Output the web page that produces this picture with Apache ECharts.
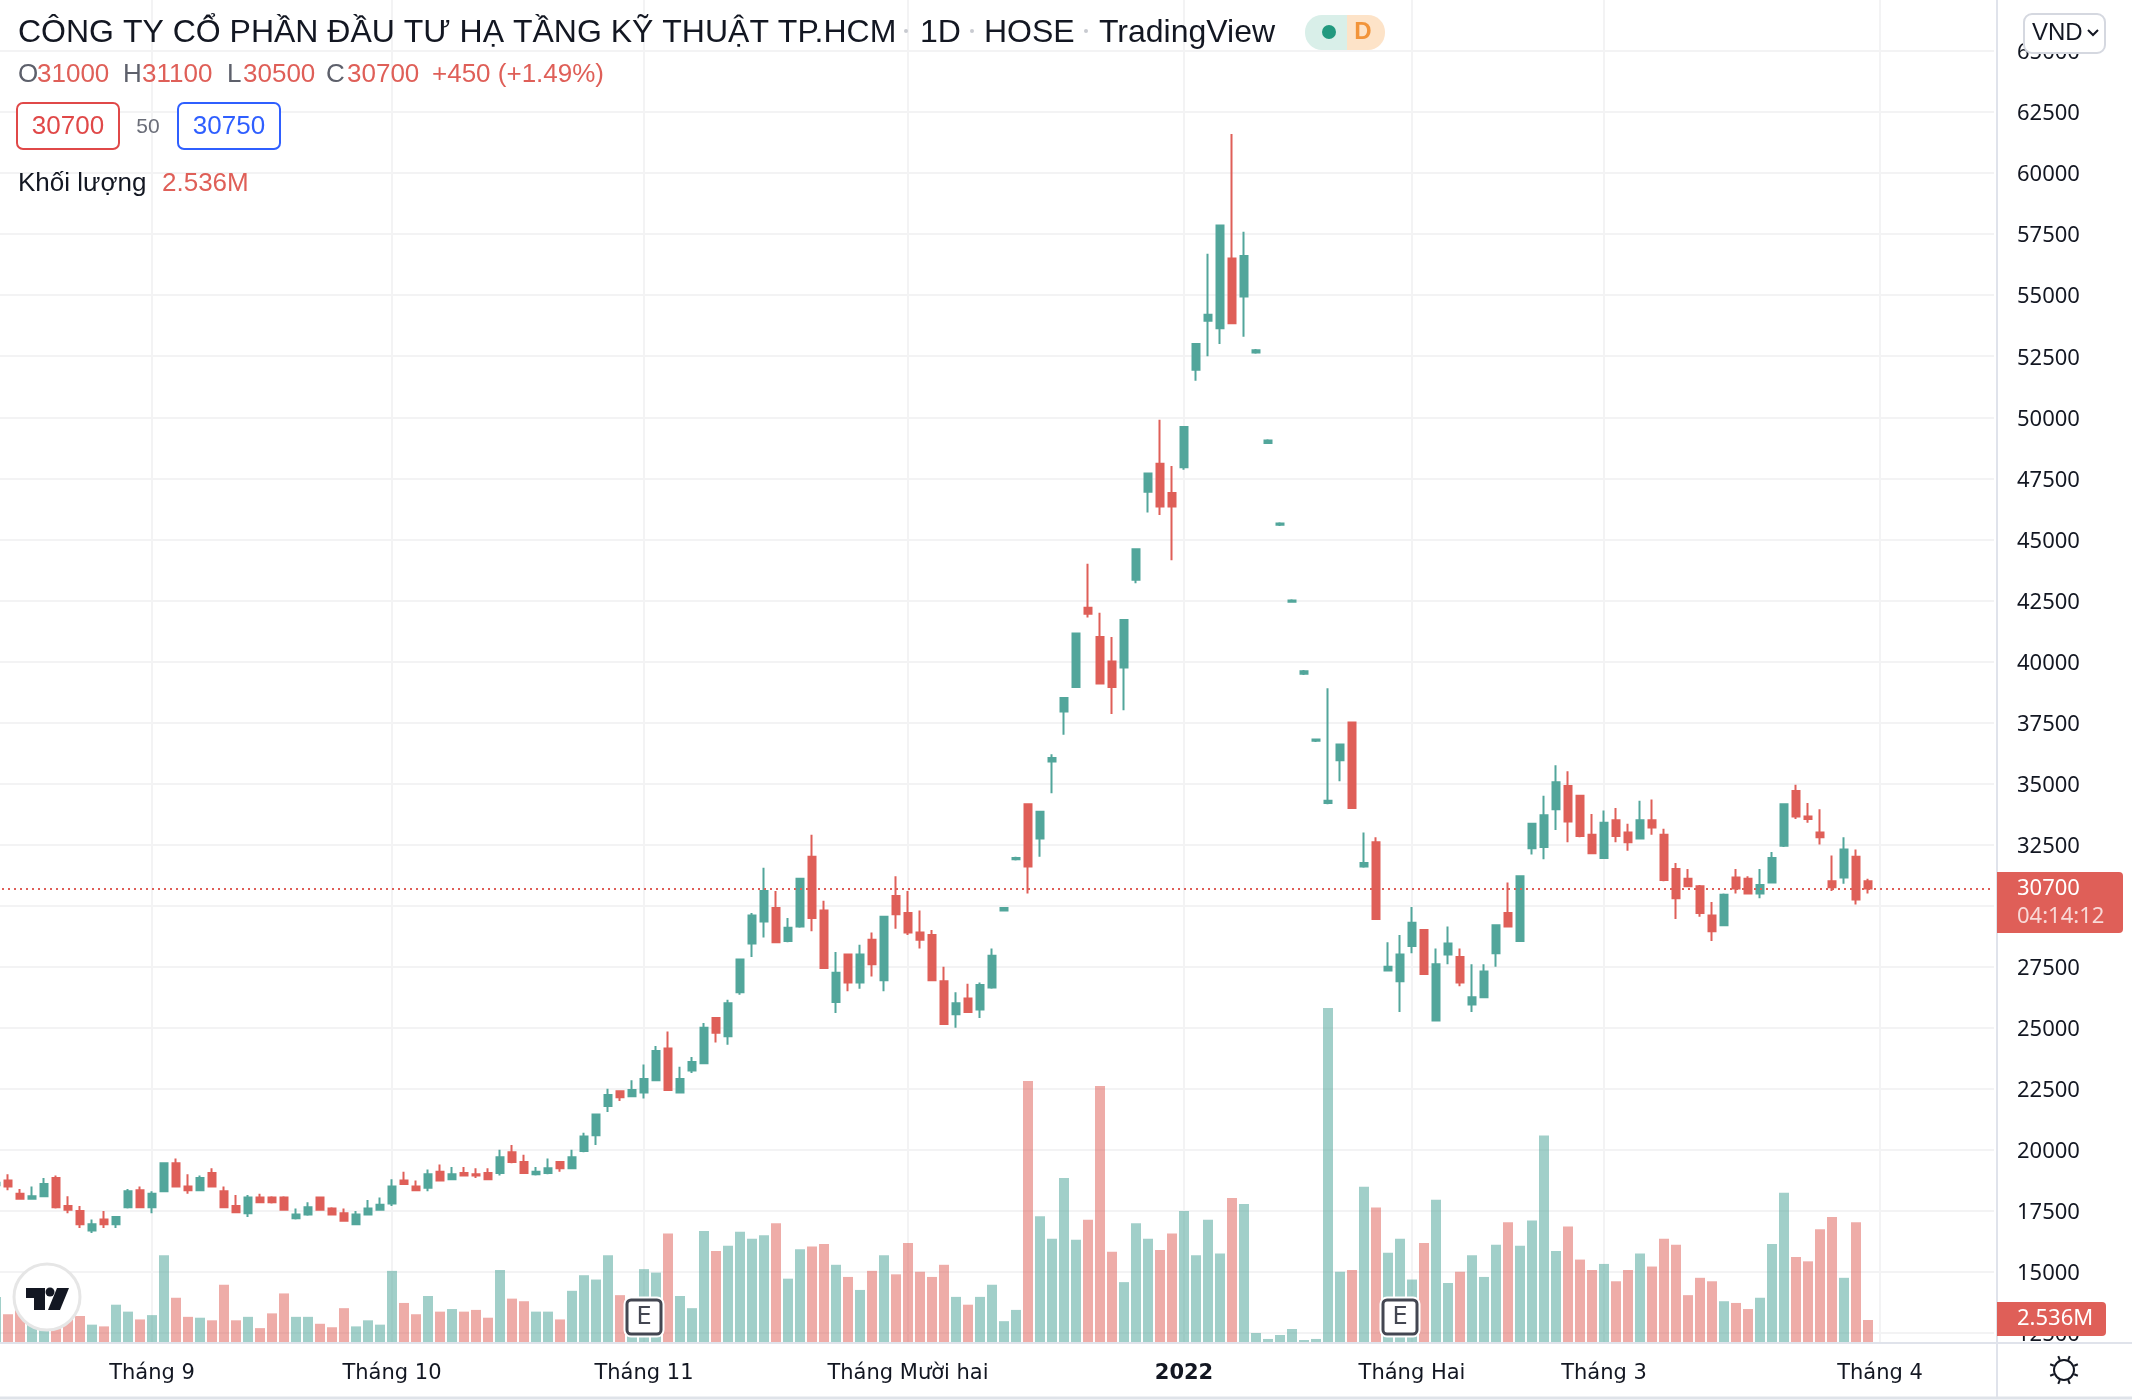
<!DOCTYPE html>
<html>
<head>
    <meta charset="utf-8" />
    <title>CÔNG TY CỔ PHẦN ĐẦU TƯ HẠ TẦNG KỸ THUẬT TP.HCM</title>
    <style>
        html, body { margin: 0; padding: 0; background: #fff; }
        #chart { width: 2132px; height: 1400px; }
    </style>
</head>
<body>
    <div id="chart"></div>
    <script src="https://cdn.jsdelivr.net/npm/echarts@6/dist/echarts.min.js"></script>
    <script type="text/javascript">

        var opens = [18550,18750,18200,18000,18100,18850,17700,17500,16700,17150,16950,17650,18350,17650,18300,19450,18500,18350,19050,18300,
            17700,17400,18050,18050,18050,17200,17350,18050,17600,17400,16950,17350,17550,17800,18750,18500,18450,19100,18800,19050,
            19000,19050,19050,19900,19500,19000,19050,19500,19250,19950,20600,21800,22400,22200,22350,22850,24150,22350,23250,23550,
            25400,24650,26450,28450,29350,29900,28550,29150,32000,29800,26050,28000,26850,28600,26950,30400,29700,28900,28800,26900,
            25550,26200,25750,26650,29800,31900,34150,32750,35900,37950,38950,42200,41000,40000,39750,43350,46950,48100,46900,47950,
            51950,53950,53650,56500,54950,52650,48950,45600,42450,39500,36750,34200,35950,37500,31600,32600,27350,26900,28350,29000,
            25300,28000,27900,25950,26250,28050,29700,28550,32350,32400,33950,34900,34500,32900,31950,33500,33000,32750,33500,32900,
            31500,31100,30800,29600,29200,31150,31100,30500,30950,32450,34700,33650,33000,31000,31150,32000,31000];
        var closes = [18650,18500,18000,18100,18600,17650,17550,16950,16950,16950,17250,18300,17650,18200,19450,18500,18350,18850,18500,17650,
            17450,18050,17850,17850,17550,17350,17650,17550,17350,17100,17350,17600,17750,18500,18600,18350,19000,18750,19000,18950,
            18950,18800,19700,19500,19050,19100,19250,19250,19700,20550,21450,22250,22150,22450,22900,24050,22450,22900,23600,25000,
            24800,26000,27800,29600,30600,28500,29100,31100,29500,27450,27250,26850,28000,27600,29550,29650,28900,28600,26950,25150,
            26000,25650,26750,27950,29900,31950,31600,33850,36050,38500,41150,41950,39100,38950,41700,44600,47700,46350,46350,49600,
            53000,54200,57850,53850,56600,52750,49050,45650,42500,39600,36800,34300,36600,34000,31750,29450,27500,28000,29300,27200,
            27600,28450,26850,26250,27300,29200,29150,31200,33350,33700,35050,33450,32850,32150,33400,32850,32600,33500,33200,31050,
            30300,30800,29700,28950,30450,30700,30500,30850,31950,34150,33650,33550,32800,30750,32300,30250,30700];
        var lows = [18550,18350,18000,18000,18100,17600,17400,16800,16600,16800,16800,17600,17650,17400,18300,18500,18200,18300,18500,17650,
            17450,17250,17850,17800,17550,17150,17300,17550,17350,17100,16950,17350,17550,17700,18600,18350,18300,18750,18800,18950,
            18850,18800,18950,19450,19050,18950,19000,19100,19250,19900,20200,21550,22000,22200,22100,22850,22450,22350,23150,23550,
            24400,24300,26350,27900,28700,28500,28500,29100,28950,27450,25600,26500,26600,27100,26500,29050,28800,28250,26950,25150,
            25000,25650,25400,26600,29800,31850,30500,32000,34600,37000,38950,41800,39100,37850,38000,43200,46100,46000,44150,47850,
            51500,52500,53000,53850,53300,52600,48950,45550,42400,39450,36700,34150,35100,34000,31550,29450,27300,25650,28050,27200,
            25300,27600,26700,25650,26250,27500,29150,28550,32100,31900,33100,32600,32800,32150,31950,32600,32250,32750,32900,31000,
            29450,30800,29550,28550,29200,30500,30500,30300,30950,32400,33550,33400,32500,30600,30900,30050,30500];
        var highs = [18650,19000,18400,18500,18850,18950,18100,17700,17150,17500,17250,18400,18500,18300,19450,19650,19000,18950,19250,18500,
            18150,18150,18200,18100,18100,17600,17850,18050,17650,17600,17500,17950,18050,18800,19100,18750,19200,19400,19300,19300,
            19250,19250,20000,20200,19800,19300,19650,19500,20000,20700,21450,22500,22400,22850,23500,24250,24850,23400,23800,25200,
            25400,26150,27800,29700,31550,30600,29500,31100,32900,30200,28100,28000,28400,28900,29550,31200,30600,29800,29000,27500,
            26450,26800,26850,28250,29950,32000,34150,33850,36200,38500,41150,44000,42000,41000,41700,44600,47700,49900,48000,49600,
            53000,56700,57850,61600,57600,52800,49100,45700,42550,39650,36850,38900,36600,37500,33000,32800,28500,28800,29950,29000,
            28250,29150,28250,27600,27600,29200,30950,31200,33350,34500,35750,35500,34500,33750,33900,34000,33350,34300,34350,33150,
            31750,31500,30850,30150,30500,31500,31200,31500,32200,34150,34950,34200,33950,32050,32800,32300,31100];
        // khoi luong, trieu co phieu
        var volumes = [5.2,3.2,4.6,2.4,3.0,3.5,3.3,3.0,2.0,1.8,4.3,3.5,2.6,3.1,10.0,5.1,2.9,2.8,2.5,6.6,
            2.5,2.9,1.6,3.3,5.6,2.9,2.9,2.1,1.7,3.9,1.8,2.5,2.0,8.2,4.5,3.2,5.3,3.5,3.8,3.5,
            3.7,2.8,8.3,5.0,4.7,3.5,3.5,2.6,5.9,7.7,7.2,10.0,5.4,3.5,8.4,8.0,12.5,5.3,3.9,12.8,
            10.5,11.1,12.7,11.9,12.3,13.7,7.3,10.7,11.0,11.3,8.9,7.5,6.0,8.2,10.0,7.8,11.4,8.1,7.5,8.9,
            5.2,4.3,5.2,6.6,2.4,3.7,30.1,14.5,11.9,18.9,11.8,14.1,29.5,10.4,6.9,13.7,11.9,10.6,12.5,15.1,
            10.0,14.1,10.2,16.6,15.9,1.04,0.35,0.81,1.5,0.23,0.35,38.5,8.1,8.3,17.9,15.5,10.3,11.9,7.2,11.4,
            16.4,6.8,8.1,10.0,7.5,11.2,13.8,11.1,14.0,23.8,10.5,13.3,9.5,8.3,9.0,7.0,8.3,10.2,8.7,11.9,
            11.2,5.4,7.4,7.0,4.7,4.5,3.8,5.1,11.3,17.2,9.8,9.3,13.0,14.4,7.4,13.8,2.536];

        var tickIndexes = [13, 33, 54, 76, 99, 118, 134, 157];
        var tickNames = ['Tháng 9', 'Tháng 10', 'Tháng 11', 'Tháng Mười hai', '2022', 'Tháng Hai', 'Tháng 3', 'Tháng 4'];
        var lastClose = 30700;
        var sessionCount = 167; // ca phien trong ben phai

        var categories = [];
        for (var i = 0; i < sessionCount; i++) {
            categories.push(String(i));
        }

        var candles = opens.map(function (o, idx) {
            return [o, closes[idx], lows[idx], highs[idx]];
        });

        var UP = '#52a69b', DOWN = '#df5f58', GRID = '#f3f3f4', LINE = '#e0e3eb', INK = '#131722';
        var SANS = '"Liberation Sans", Arial, sans-serif';

        function isTick(index) {
            return tickIndexes.indexOf(index) >= 0;
        }

        function txt(x, y, text, fill, size, extra) {
            var style = { text: text, fill: fill, fontSize: size, fontFamily: SANS, verticalAlign: 'middle', align: 'left' };
            for (var k in (extra || {})) { style[k] = extra[k]; }
            return { type: 'text', x: x, y: y, z: 100, silent: true, style: style };
        }
        function box(x, y, w, h, fill, stroke, lineWidth, r) {
            return { type: 'rect', z: 99, silent: true, shape: { x: x, y: y, width: w, height: h, r: r || 0 }, style: { fill: fill, stroke: stroke, lineWidth: lineWidth || 0 } };
        }
        function seg(x1, y1, x2, y2, stroke, lineWidth) {
            return { type: 'line', z: 98, silent: true, shape: { x1: x1, y1: y1, x2: x2, y2: y2 }, style: { stroke: stroke, lineWidth: lineWidth } };
        }
        function dot(cx, cy, r, fill) {
            return { type: 'circle', z: 100, silent: true, shape: { cx: cx, cy: cy, r: r }, style: { fill: fill } };
        }

        var chrome = [
            // khung truc
            seg(0, 1343, 2132, 1343, LINE, 2),
            seg(0, 1398, 2132, 1398, '#dfe3e9', 3),
            seg(1997, 0, 1997, 1397, LINE, 2),

            // tieu de
            txt(18, 33, 'CÔNG TY CỔ PHẦN ĐẦU TƯ HẠ TẦNG KỸ THUẬT TP.HCM', INK, 32),
            dot(906, 31, 2, '#c8cad0'),
            txt(920, 33, '1D', INK, 32),
            dot(972, 31, 2, '#c8cad0'),
            txt(984, 33, 'HOSE', INK, 32),
            dot(1086, 31, 2, '#c8cad0'),
            txt(1099, 33, 'TradingView', INK, 32),
            box(1305, 15, 42, 35, '#d9efe9', null, 0, [17, 0, 0, 17]),
            box(1347, 15, 38, 35, '#fde3c8', null, 0, [0, 17, 17, 0]),
            dot(1329, 32, 7, '#22997f'),
            txt(1363, 32, 'D', '#f2943a', 24, { align: 'center', fontWeight: 'bold' }),

            // OHLC
            txt(18, 75, 'O', '#5d606b', 26),
            txt(37, 75, '31000', DOWN, 26),
            txt(123, 75, 'H', '#5d606b', 26),
            txt(142, 75, '31100', DOWN, 26),
            txt(227, 75, 'L', '#5d606b', 26),
            txt(243, 75, '30500', DOWN, 26),
            txt(326, 75, 'C', '#5d606b', 26),
            txt(347, 75, '30700', DOWN, 26),
            txt(432, 75, '+450 (+1.49%)', DOWN, 26),

            // gia mua ban
            box(17, 103, 102, 46, '#fff', '#e04848', 2, 6),
            txt(68, 127, '30700', '#e04848', 26, { align: 'center' }),
            txt(148, 127, '50', '#6a6d78', 21, { align: 'center' }),
            box(178, 103, 102, 46, '#fff', '#2f5fff', 2, 6),
            txt(229, 127, '30750', '#2f5fff', 26, { align: 'center' }),

            txt(18, 184, 'Khối lượng', INK, 26),
            txt(162, 184, '2.536M', DOWN, 26),

            // nut VND
            box(2024, 14, 81, 39, '#fff', '#d5d8e0', 2, 8),
            txt(2032, 33, 'VND', INK, 24),
            { type: 'polyline', z: 100, silent: true, shape: { points: [[2088, 30], [2093, 35], [2098, 30]] }, style: { stroke: INK, lineWidth: 2, fill: null } },

            // nhan gia cuoi
            box(1997, 872, 126, 61, DOWN, null, 0, [0, 4, 4, 0]),
            txt(2017, 889, '30700', '#fff', 22, { fontFamily: '"Noto Sans", sans-serif' }),
            txt(2017, 917, '04:14:12', '#f8d9d7', 22, { fontFamily: '"Noto Sans", sans-serif' }),
            box(1997, 1302, 109, 34, DOWN, null, 0, [0, 4, 4, 0]),
            txt(2017, 1319, '2.536M', '#fff', 22, { fontFamily: '"Noto Sans", sans-serif' }),

            // logo
            { type: 'circle', z: 99, silent: true, shape: { cx: 47, cy: 1297, r: 33 }, style: { fill: '#fff', stroke: '#e6e6e6', lineWidth: 3 } },
            { type: 'polygon', z: 100, silent: true, shape: { points: [[26, 1288], [45, 1288], [45, 1310], [34, 1310], [34, 1298], [26, 1298]] }, style: { fill: INK } },
            dot(50, 1292, 4.5, INK),
            { type: 'polygon', z: 100, silent: true, shape: { points: [[57, 1288], [69, 1288], [60, 1310], [48, 1310]] }, style: { fill: INK } },

            // mat troi
            { type: 'circle', z: 100, silent: true, shape: { cx: 2064, cy: 1370, r: 10 }, style: { fill: '#fff', stroke: INK, lineWidth: 2 } }
        ];

        // tia mat troi
        for (var a = 0; a < 8; a++) {
            var ang = a * Math.PI / 4 + Math.PI / 8;
            chrome.push(seg(2064 + 11 * Math.cos(ang), 1370 + 11 * Math.sin(ang), 2064 + 15 * Math.cos(ang), 1370 + 15 * Math.sin(ang), INK, 2));
        }

        // dau E tren truc thoi gian
        [644, 1400].forEach(function (cx) {
            chrome.push(box(cx - 19, 1298, 38, 38, '#fff', '#fff', 3, 6));
            chrome.push(box(cx - 17, 1300, 34, 34, '#fff', '#434651', 3, 4));
            chrome.push(txt(cx, 1318, 'E', '#434651', 24, { align: 'center', fontFamily: '"DejaVu Sans", sans-serif' }));
        });

        var chart = echarts.init(document.getElementById('chart'));

        var option = {
            animation: false,
            backgroundColor: '#fff',
            grid: [
                { left: -10, top: 0, width: 2004, height: 1342, outerBoundsMode: 'none' },
                { left: -10, top: 51, width: 2004, height: 1282, outerBoundsMode: 'none' }
            ],
            xAxis: [
                {
                    type: 'category', gridIndex: 0, data: categories, boundaryGap: true,
                    axisLine: { show: false },
                    axisTick: { show: false },
                    splitLine: {
                        show: true, alignWithLabel: true,
                        interval: function (index) { return isTick(index); },
                        lineStyle: { color: GRID, width: 2 }
                    },
                    axisLabel: {
                        interval: function (index) { return isTick(index); },
                        margin: 21, color: INK, fontSize: 21, fontFamily: '"DejaVu Sans", sans-serif',
                        formatter: function (value, index) {
                            var name = tickNames[tickIndexes.indexOf(index)];
                            return name === '2022' ? '{b|2022}' : name;
                        },
                        rich: { b: { fontWeight: 'bold', fontSize: 21, fontFamily: '"DejaVu Sans", sans-serif', color: INK } }
                    }
                },
                { type: 'category', gridIndex: 1, data: categories, boundaryGap: true, show: false }
            ],
            yAxis: [
                { type: 'value', gridIndex: 0, min: 0, max: 154.7, show: false, splitLine: { show: false } },
                {
                    type: 'value', gridIndex: 1, min: 12500, max: 65000, interval: 2500, position: 'right', offset: 3,
                    axisLine: { show: false },
                    axisTick: { show: false },
                    axisLabel: {
                        margin: 20, hideOverlap: false,
                        formatter: function (value) { return '{p|' + value + '}'; },
                        rich: { p: { color: INK, fontSize: 22, fontFamily: '"Noto Sans", sans-serif', padding: [4, 0, 0, 0] } }
                    },
                    splitLine: { show: true, lineStyle: { color: GRID, width: 2 } }
                }
            ],
            graphic: { elements: chrome },
            series: [
                {
                    name: 'Khối lượng', type: 'bar', xAxisIndex: 0, yAxisIndex: 0, barWidth: 10,
                    data: volumes,
                    silent: true,
                    itemStyle: {
                        color: function (p) {
                            return closes[p.dataIndex] >= opens[p.dataIndex] ? 'rgba(82,166,155,0.54)' : 'rgba(223,95,88,0.52)';
                        }
                    }
                },
                {
                    name: 'Giá', type: 'candlestick', xAxisIndex: 1, yAxisIndex: 1, barWidth: 8,
                    data: candles,
                    silent: true,
                    itemStyle: { color: UP, color0: DOWN, borderColor: UP, borderColor0: DOWN, borderWidth: 2 },
                    markLine: {
                        silent: true, symbol: 'none', animation: false,
                        label: { show: false },
                        lineStyle: { color: DOWN, type: [2, 4], width: 2 },
                        data: [{ yAxis: lastClose }]
                    }
                }
            ]
        };

        chart.setOption(option);
    </script>
</body>
</html>
